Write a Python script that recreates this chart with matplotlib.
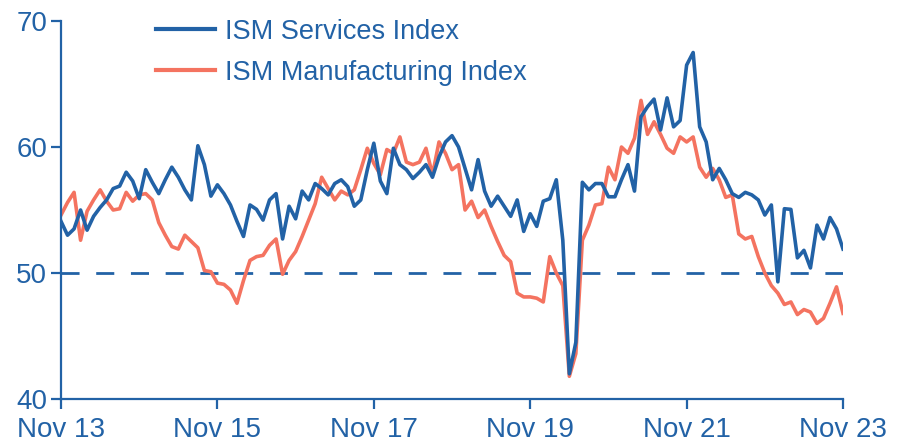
import matplotlib
matplotlib.use("Agg")
from matplotlib import pyplot as plt

# monthly readings, Oct 2013 .. Oct 2023
services = [54.1, 53.0, 53.5, 55.0, 53.4, 54.5, 55.2, 55.8, 56.7, 56.9, 58.0, 57.3, 55.9, 58.2, 57.2, 56.3, 57.4, 58.4, 57.6,
            56.6, 55.8, 60.1, 58.6, 56.1, 57.0, 56.3, 55.4, 54.1, 52.9, 55.4, 55.05, 54.2, 55.8, 56.3, 52.7, 55.3, 54.3, 56.5,
            55.8, 57.1, 56.7, 56.2, 57.1, 57.4, 56.85, 55.3, 55.8, 58.2, 60.3, 57.3, 56.3, 59.9, 58.6, 58.2, 57.5, 58.0,
            58.6, 57.6, 59.2, 60.4, 60.9, 60.0, 58.3, 56.6, 59.0, 56.5, 55.3, 56.1, 55.3, 54.5, 55.8, 53.3, 54.7, 53.7, 55.7,
            55.9, 57.4, 52.6, 42.0, 44.5, 57.2, 56.6, 57.1, 57.1, 56.05, 56.05, 57.4, 58.6, 56.5,
            62.4, 63.2, 63.8, 61.35, 63.9, 61.6, 62.1, 66.5, 67.5, 61.6, 60.4, 57.4, 58.3, 57.4, 56.3, 56.0,
            56.4, 56.2, 55.8, 54.6, 55.4, 49.3, 55.1, 55.05, 51.2, 51.8, 50.4, 53.8, 52.7, 54.4, 53.5, 51.9]

manufacturing = [54.6, 55.6, 56.4, 52.6, 54.9, 55.8, 56.6, 55.7, 55.0, 55.1, 56.4, 55.7, 56.2, 56.3, 55.8, 54.0, 53.0, 52.1, 51.9,
                 53.0, 52.5, 52.0, 50.2, 50.1, 49.2, 49.1, 48.65, 47.6, 49.4, 51.0, 51.3, 51.4, 52.2, 52.7, 49.9, 51.0, 51.7, 52.9,
                 54.2, 55.5, 57.6, 56.7, 55.8, 56.5, 56.2, 56.6, 58.2, 59.9, 58.7, 57.8, 59.8, 59.5, 60.8, 58.8, 58.6, 58.8, 59.9,
                 57.8, 60.4, 59.5, 58.2, 58.6, 55.0, 55.7, 54.4, 55.0, 53.7, 52.5, 51.4, 50.9, 48.4, 48.1, 48.1, 48.0, 47.7,
                 51.3, 50.0, 49.0, 41.8, 43.6, 52.6, 53.8, 55.4, 55.5, 58.4, 57.4, 60.0, 59.5, 60.7,
                 63.7, 61.0, 62.0, 61.0, 59.9, 59.5, 60.8, 60.4, 60.8, 58.4, 57.6, 58.3, 57.4, 56.0, 56.2, 53.1,
                 52.7, 52.9, 51.3, 50.0, 49.0, 48.4, 47.5, 47.7, 46.7, 47.1, 46.9, 46.0, 46.4, 47.6, 48.9, 46.8]

tickPos = [0, 24, 48, 72, 96, 120]
tickLabels = ["Nov 13", "Nov 15", "Nov 17", "Nov 19", "Nov 21", "Nov 23"]
yTicks = [40, 50, 60, 70]

blue = "#2262a6"
salmon = "#f47360"

plt.rcParams["font.family"] = ["Liberation Sans", "DejaVu Sans"]

fig = plt.figure(figsize=(9, 4.47), dpi=100)
ax = fig.add_axes([0.0678, 0.1074, 0.8689, 0.8456])

months = list(range(len(services)))
ax.axhline(50, color=blue, linewidth=2, linestyle=(0, (6.5, 6)), zorder=1)
ax.plot(months, services, color=blue, linewidth=2.6, label="ISM Services Index", zorder=3)
ax.plot(months, manufacturing, color=salmon, linewidth=2.6, label="ISM Manufacturing Index", zorder=2)

ax.set_xlim(0, 120)
ax.set_ylim(40, 70)
ax.set_xticks(tickPos)
ax.set_xticklabels(tickLabels)
ax.set_yticks(yTicks)

for side in ["top", "right"]:
    ax.spines[side].set_visible(False)
for side in ["left", "bottom"]:
    ax.spines[side].set_color(blue)
    ax.spines[side].set_linewidth(1.6)

ax.tick_params(colors=blue, labelcolor=blue, labelsize=20, width=1.6, length=7)
ax.tick_params(axis="x", pad=6)
ax.tick_params(axis="y", pad=3)

leg = ax.legend(loc="upper left", bbox_to_anchor=(0.09, 1.07), frameon=False,
                fontsize=19.5, handlelength=2.2, labelspacing=0.55, handletextpad=0.37)
for t in leg.get_texts():
    t.set_color(blue)
for h in leg.get_lines():
    h.set_linewidth(3)

fig.savefig("out.png", dpi=100)
